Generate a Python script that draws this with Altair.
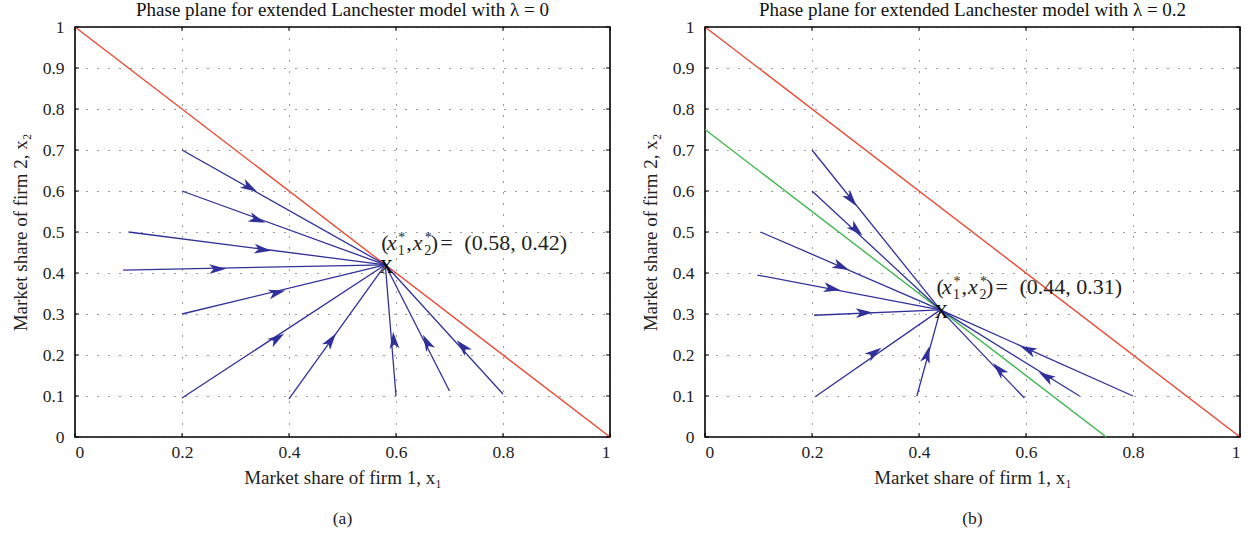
import math
import altair as alt
import pandas as pd

# ---- data -------------------------------------------------------------
tick_x = [0, 0.2, 0.4, 0.6, 0.8, 1]
tick_y = [0, 0.1, 0.2, 0.3, 0.4, 0.5, 0.6, 0.7, 0.8, 0.9, 1]

# panel (a): lambda = 0
eq_a = (0.58, 0.42)
starts_a = [(0.2, 0.7), (0.2, 0.6), (0.1, 0.5), (0.09, 0.407), (0.2, 0.3),
            (0.2, 0.095), (0.4, 0.093), (0.6, 0.1), (0.7, 0.112), (0.8, 0.105)]
arrows_a = [(0.326, 0.609), (0.34, 0.53), (0.35, 0.457), (0.266, 0.41), (0.377, 0.352),
            (0.377, 0.24), (0.478, 0.235), (0.596, 0.235), (0.658, 0.23), (0.725, 0.22)]
guides_a = {"#ee4129": [(0, 1), (1, 0)]}

# panel (b): lambda = 0.2
eq_b = (0.44, 0.31)
starts_b = [(0.2, 0.7), (0.2, 0.6), (0.104, 0.5), (0.098, 0.395), (0.204, 0.297),
            (0.206, 0.098), (0.396, 0.1), (0.597, 0.095), (0.7, 0.1), (0.8, 0.1)]
arrows_b = [(0.273, 0.58), (0.282, 0.506), (0.254, 0.416), (0.237, 0.362), (0.297, 0.303),
            (0.316, 0.205), (0.415, 0.2), (0.55, 0.164), (0.638, 0.147), (0.604, 0.213)]
guides_b = {"#ee4129": [(0, 1), (1, 0)], "#35b548": [(0, 0.75), (0.75, 0)]}

W, H = 535, 410
BLUE = "#30309a"
FONT = "Liberation Serif"
ARROW = "M0,-1L0.55,0.9L0,0.42L-0.55,0.9Z"


def xenc():
    return alt.X("x:Q", scale=alt.Scale(domain=[0, 1], nice=False, zero=False),
                 axis=alt.Axis(values=tick_x, format="~g", title="Market share of firm 1, x\u2081",
                               grid=True, ticks=False, domain=False, labelPadding=6,
                               titlePadding=8))


def yenc():
    return alt.Y("y:Q", scale=alt.Scale(domain=[0, 1], nice=False, zero=False),
                 axis=alt.Axis(values=tick_y, format="~g", title="Market share of firm 2, x\u2082",
                               grid=True, ticks=False, domain=False, labelPadding=11,
                               titlePadding=12))


def panel(starts, arrows, eq, guides, title, caption, lab_dy):
    rows = []
    for i, (sx, sy) in enumerate(starts):
        rows.append({"traj": i, "step": 0, "x": sx, "y": sy})
        rows.append({"traj": i, "step": 1, "x": eq[0], "y": eq[1]})
    traj = alt.Chart(pd.DataFrame(rows)).mark_line(color=BLUE, strokeWidth=1.3).encode(
        x=xenc(), y=yenc(), detail="traj:N", order="step:Q")

    arows = []
    for (ax, ay), (sx, sy) in zip(arrows, starts):
        ang = math.degrees(math.atan2((eq[0] - sx) * W, (eq[1] - sy) * H)) % 360
        arows.append({"x": ax, "y": ay, "ang": ang})
    heads = alt.Chart(pd.DataFrame(arows)).mark_point(
        shape=ARROW, filled=True, size=320, color=BLUE, opacity=1).encode(
        x=xenc(), y=yenc(), angle=alt.Angle("ang:Q", scale=None))

    grows = []
    for col, pts in guides.items():
        for k, (gx, gy) in enumerate(pts):
            grows.append({"g": col, "k": k, "x": gx, "y": gy})
    guide = alt.Chart(pd.DataFrame(grows)).mark_line(strokeWidth=1.3).encode(
        x=xenc(), y=yenc(), detail="g:N", order="k:Q",
        color=alt.Color("g:N", scale=None))

    eqdf = pd.DataFrame({"x": [eq[0]], "y": [eq[1]]})
    base = alt.Chart(eqdf).encode(x=xenc(), y=yenc())
    layers = [guide, traj, heads,
              base.mark_text(text="X", font=FONT, fontSize=19, color="black", dx=1, dy=2)]

    # equilibrium label built from pieces: (x1*, x2*) = (a, b)
    lab = f"({eq[0]:.2f}, {eq[1]:.2f})"
    pieces = [("(", 0, 0, 22, "normal"), ("x", 5.5, 0, 22, "italic"),
              ("*", 17, -8, 14, "normal"), ("1", 16.5, 5, 14, "normal"),
              (",", 25, 0, 22, "normal"), ("x", 31.5, 0, 22, "italic"),
              ("*", 43.5, -8, 14, "normal"), ("2", 43, 5, 14, "normal"),
              (")", 49.5, 0, 22, "normal"), ("=", 59, 0, 22, "normal"),
              (lab, 83, 0, 22, "normal")]
    for txt, ddx, ddy, fs, st in pieces:
        layers.append(base.mark_text(text=txt, font=FONT, fontSize=fs, fontStyle=st,
                                     align="left", baseline="alphabetic", color="#222222",
                                     dx=-4 + ddx, dy=lab_dy + ddy))

    # inward tick marks on all four sides
    tx = alt.Chart(pd.DataFrame({"x": tick_x}))
    ty = alt.Chart(pd.DataFrame({"y": tick_y}))
    layers += [
        tx.mark_rule(color="black").encode(x=xenc(), y=alt.value(H), y2=alt.value(H - 4)),
        tx.mark_rule(color="black").encode(x=xenc(), y=alt.value(0), y2=alt.value(4)),
        ty.mark_rule(color="black").encode(y=yenc(), x=alt.value(0), x2=alt.value(4)),
        ty.mark_rule(color="black").encode(y=yenc(), x=alt.value(W - 4), x2=alt.value(W)),
    ]
    cap = alt.Chart(pd.DataFrame({"t": [caption]})).mark_text(
        font=FONT, fontSize=17.5, color="#222222").encode(
        text="t:N", x=alt.value(W / 2), y=alt.value(H + 82))
    layers.append(cap)

    return alt.layer(*layers).properties(
        width=W, height=H,
        title=alt.TitleParams(title, font=FONT, fontSize=19, fontWeight="normal",
                              color="#111111", offset=-2))


left = panel(starts_a, arrows_a, eq_a, guides_a,
             "Phase plane for extended Lanchester model with \u03bb = 0", "(a)", -15)
right = panel(starts_b, arrows_b, eq_b, guides_b,
              "Phase plane for extended Lanchester model with \u03bb = 0.2", "(b)", -16)

chart = alt.hconcat(left, right, spacing=26).properties(
    padding={"left": 10, "top": 0, "right": 0, "bottom": 5}
).configure_view(stroke="black", strokeWidth=1.6).configure_axis(
    labelFont=FONT, titleFont=FONT, labelFontSize=17.5, titleFontSize=19,
    labelColor="#222222", titleColor="#222222", titleFontWeight="normal",
    gridColor="#222222", gridDash=[1, 10], gridWidth=1, gridOpacity=0.9
).configure_axisY(labelAlign="right")

chart.save("out.html", embed_options={"renderer": "svg", "actions": False})
